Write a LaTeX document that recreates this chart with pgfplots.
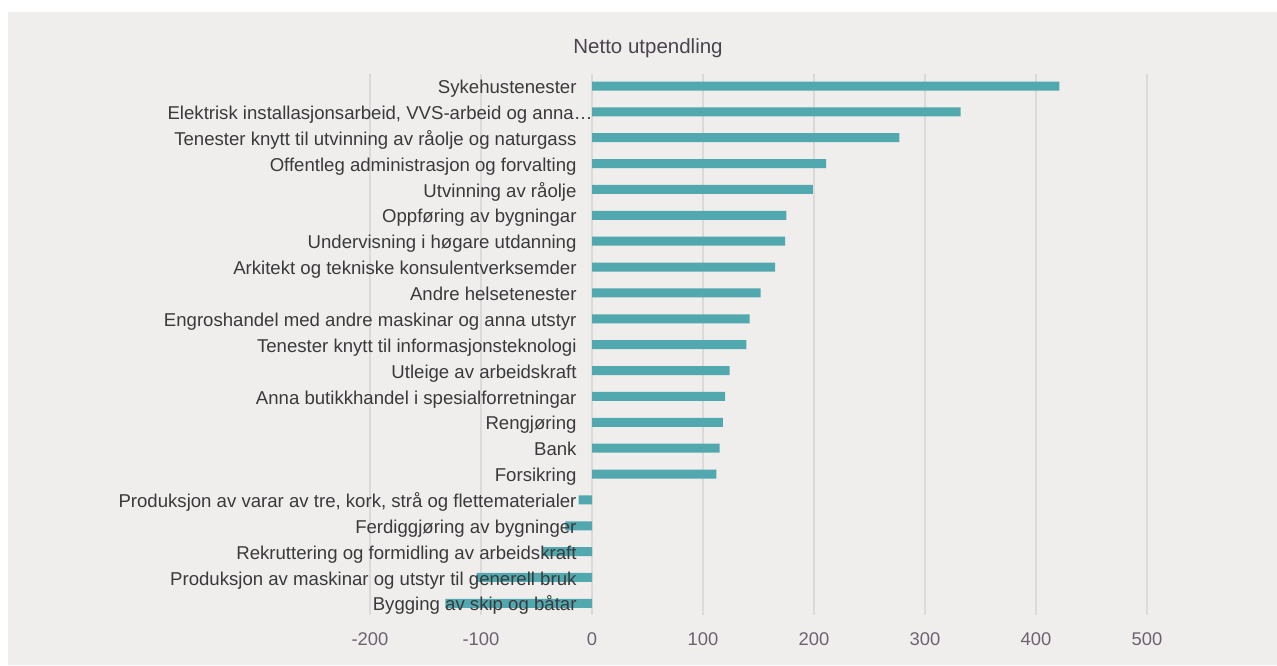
\documentclass[border=0pt]{standalone}
\usepackage{pgfplots}
\pgfplotsset{compat=1.18}
\usepackage{fontspec}
\setmainfont{Liberation Sans}
\definecolor{bgc}{HTML}{EFEEEC}
\definecolor{gridc}{HTML}{DCD9DC}
\definecolor{barc}{HTML}{52A8AF}
\definecolor{labc}{HTML}{3A3A3C}
\definecolor{tickc}{HTML}{6E6272}
\definecolor{titc}{HTML}{4B4450}
\begin{document}
\begin{tikzpicture}[x=1pt,y=1pt]
\useasboundingbox (0,0) rectangle (1277,666);
\fill[white] (0,0) rectangle (1277,666);
\fill[bgc] (8,1) rectangle (1277,654);
\node[anchor=base, inner sep=0pt, text=titc, font=\fontsize{20.5}{24}\selectfont] at (648,612.7) {Netto utpendling};
\begin{axis}[
  at={(370pt,51pt)}, anchor=south west,
  scale only axis, width=777pt, height=541pt,
  xmin=-200, xmax=500, ymin=-0.464, ymax=20.45,
  y dir=reverse,
  axis line style={draw=none},
  major tick length=0pt,
  xtick={-200,-100,0,100,200,300,400,500},
  xticklabels={-200,-100,0,100,200,300,400,500},
  ytick=\empty,
  xmajorgrids,
  grid style={draw=gridc, line width=1.6pt},
  xticklabel style={anchor=north, inner sep=0pt, yshift=-17.5pt, text=tickc, font=\fontsize{18.4}{22}\selectfont},
  clip=false,
]
\addplot[xbar, bar width=9pt, fill=barc, draw=none] coordinates {
  (421,0) (332,1) (277,2) (211,3) (199,4) (175,5) (174,6) (165,7) (152,8) (142,9) (139,10)
  (124,11) (120,12) (118,13) (115,14) (112,15) (-12,16) (-24,17) (-44,18) (-104,19) (-132,20)
};
\begin{scope}[every node/.style={anchor=base east, inner sep=0pt, xshift=-15.3pt, yshift=-7.6pt, text=labc, font=\fontsize{18.6}{22}\selectfont}]
\node at (axis cs:0,0) {Sykehustenester};
\node[xshift=16pt] at (axis cs:0,1) {Elektrisk installasjonsarbeid, VVS-arbeid og anna…};
\node at (axis cs:0,2) {Tenester knytt til utvinning av råolje og naturgass};
\node at (axis cs:0,3) {Offentleg administrasjon og forvalting};
\node at (axis cs:0,4) {Utvinning av råolje};
\node at (axis cs:0,5) {Oppføring av bygningar};
\node at (axis cs:0,6) {Undervisning i høgare utdanning};
\node at (axis cs:0,7) {Arkitekt og tekniske konsulentverksemder};
\node at (axis cs:0,8) {Andre helsetenester};
\node at (axis cs:0,9) {Engroshandel med andre maskinar og anna utstyr};
\node at (axis cs:0,10) {Tenester knytt til informasjonsteknologi};
\node at (axis cs:0,11) {Utleige av arbeidskraft};
\node at (axis cs:0,12) {Anna butikkhandel i spesialforretningar};
\node at (axis cs:0,13) {Rengjøring};
\node at (axis cs:0,14) {Bank};
\node at (axis cs:0,15) {Forsikring};
\node at (axis cs:0,16) {Produksjon av varar av tre, kork, strå og flettematerialer};
\node at (axis cs:0,17) {Ferdiggjøring av bygninger};
\node at (axis cs:0,18) {Rekruttering og formidling av arbeidskraft};
\node at (axis cs:0,19) {Produksjon av maskinar og utstyr til generell bruk};
\node at (axis cs:0,20) {Bygging av skip og båtar};
\end{scope}
\end{axis}
\end{tikzpicture}
\end{document}
